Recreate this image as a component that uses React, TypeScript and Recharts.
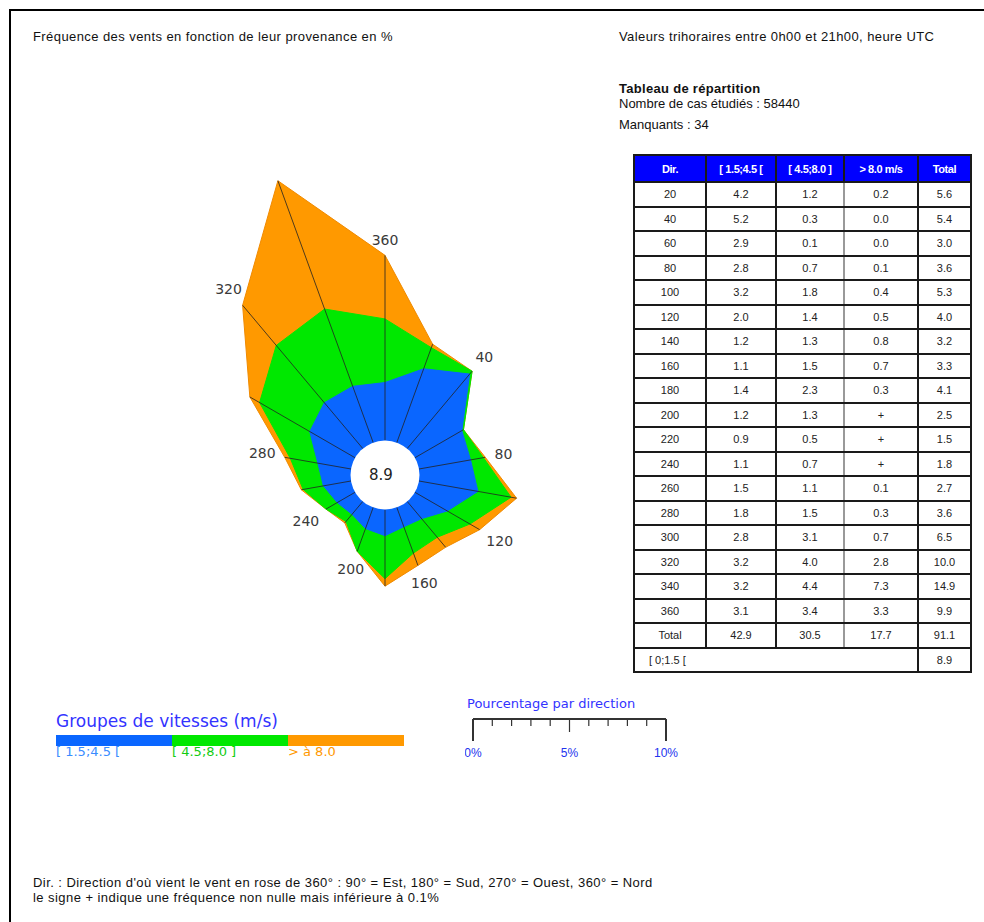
import React from 'react';
import { RadarChart, Radar, PolarAngleAxis, PolarRadiusAxis } from 'recharts';

// directions in table order (degrees the wind comes from)
const directions = [20, 40, 60, 80, 100, 120, 140, 160, 180, 200, 220, 240, 260, 280, 300, 320, 340, 360];
// frequency per speed group, %
const freqLow = [4.2, 5.2, 2.9, 2.8, 3.2, 2.0, 1.2, 1.1, 1.4, 1.2, 0.9, 1.1, 1.5, 1.8, 2.8, 3.2, 3.2, 3.1];
const freqMid = [1.2, 0.3, 0.1, 0.7, 1.8, 1.4, 1.3, 1.5, 2.3, 1.3, 0.5, 0.7, 1.1, 1.5, 3.1, 4.0, 4.4, 3.4];
const freqHighText = ['0.2', '0.0', '0.0', '0.1', '0.4', '0.5', '0.8', '0.7', '0.3', '+', '+', '+', '0.1', '0.3', '0.7', '2.8', '7.3', '3.3'];
const freqTotal = [5.6, 5.4, 3.0, 3.6, 5.3, 4.0, 3.2, 3.3, 4.1, 2.5, 1.5, 1.8, 2.7, 3.6, 6.5, 10.0, 14.9, 9.9];
const columnTotals = ['42.9', '30.5', '17.7', '91.1'];
const calmLabel = '[ 0;1.5 [';
const calmValue = '8.9';

const headers = ['Dir.', '[ 1.5;4.5 [', '[ 4.5;8.0 ]', '> 8.0 m/s', 'Total'];
const speedGroups = ['[ 1.5;4.5 [', '[ 4.5;8.0 ]', '> à 8.0'];
const roseLabelDirs = [360, 40, 80, 120, 160, 200, 240, 280, 320];
const rulerTicks = [0, 1, 2, 3, 4, 5, 6, 7, 8, 9, 10];
const rulerLabels = [0, 5, 10];

const BLUE = '#0a66ff';
const GREEN = '#00e800';
const ORANGE = '#ff9900';
const ROSE_INNER = 34.5;
const ROSE_PX_PER_PCT = 18.7;
const ROSE_MAX = 15;

// rose starts at north (360) and turns clockwise
const roseOrder = [17, 0, 1, 2, 3, 4, 5, 6, 7, 8, 9, 10, 11, 12, 13, 14, 15, 16];
const roseData = roseOrder.map((i) => ({
  dir: directions[i],
  low: freqLow[i],
  lowMid: Math.min(freqLow[i] + freqMid[i], freqTotal[i]),
  total: freqTotal[i],
}));

const txt = "'Liberation Sans', Arial, sans-serif";
const verdana = "'DejaVu Sans', Verdana, sans-serif";

function RoseSpokes(props: any) {
  const { points } = props;
  if (!points || !points.length) return null;
  const { cx, cy } = points[0];
  return (
    <g>
      {points.map((p: any, i: number) => {
        const a = (-p.angle * Math.PI) / 180;
        return (
          <line
            key={`s${i}`}
            x1={cx + ROSE_INNER * Math.cos(a)}
            y1={cy + ROSE_INNER * Math.sin(a)}
            x2={p.x}
            y2={p.y}
            stroke="#222"
            strokeWidth={0.8}
          />
        );
      })}
      <circle cx={cx} cy={cy} r={ROSE_INNER} fill="#fff" />
      <text x={cx - 4} y={cy} textAnchor="middle" dominantBaseline="central" fontFamily={verdana} fontSize={15} fill="#222">
        {calmValue}
      </text>
      {points
        .filter((p: any) => roseLabelDirs.includes(p.payload.dir))
        .map((p: any, i: number) => {
          const a = (-p.angle * Math.PI) / 180;
          const halfW = String(p.payload.dir).length * 4.3;
          const r = p.radius + 9 + Math.abs(Math.cos(a)) * halfW + Math.abs(Math.sin(a)) * 6;
          return (
            <text
              key={`l${i}`}
              x={cx + r * Math.cos(a)}
              y={cy + r * Math.sin(a)}
              textAnchor="middle"
              dominantBaseline="central"
              fontFamily={verdana}
              fontSize={14}
              fill="#3a3a3a"
            >
              {p.payload.dir}
            </text>
          );
        })}
    </g>
  );
}

const cell: React.CSSProperties = {
  border: '2px solid #1a1a1a',
  textAlign: 'center',
  padding: 0,
  height: 22.5,
  fontSize: 11,
  color: '#222',
};

function Table() {
  const colW = [72, 70, 68, 74, 53];
  return (
    <table
      style={{
        position: 'absolute',
        left: 633,
        top: 154,
        width: 337,
        borderCollapse: 'collapse',
        tableLayout: 'fixed',
        fontFamily: txt,
      }}
    >
      <colgroup>
        {colW.map((w, i) => (
          <col key={i} style={{ width: w }} />
        ))}
      </colgroup>
      <tbody>
        <tr>
          {headers.map((h, i) => (
            <td
              key={i}
              style={{ ...cell, height: 25, background: '#0000ff', color: '#fff', fontWeight: 'bold', letterSpacing: -0.4 }}
            >
              {h}
            </td>
          ))}
        </tr>
        {directions.map((d, i) => (
          <tr key={d}>
            <td style={cell}>{d}</td>
            <td style={cell}>{freqLow[i].toFixed(1)}</td>
            <td style={{ ...cell, borderRightColor: '#999' }}>{freqMid[i].toFixed(1)}</td>
            <td style={{ ...cell, borderLeftColor: '#999' }}>{freqHighText[i]}</td>
            <td style={cell}>{freqTotal[i].toFixed(1)}</td>
          </tr>
        ))}
        <tr>
          <td style={cell}>Total</td>
          {columnTotals.map((v, i) => (
            <td key={i} style={i === 2 ? { ...cell, borderLeftColor: '#999' } : i === 1 ? { ...cell, borderRightColor: '#999' } : cell}>
              {v}
            </td>
          ))}
        </tr>
        <tr>
          <td colSpan={4} style={{ ...cell, textAlign: 'left', paddingLeft: 14 }}>
            {calmLabel}
          </td>
          <td style={cell}>{calmValue}</td>
        </tr>
      </tbody>
    </table>
  );
}

function Ruler() {
  const x0 = 8;
  const w = 193;
  const xs = (v: number) => x0 + (v / 10) * w;
  return (
    <svg width={230} height={50} style={{ position: 'absolute', left: 465, top: 712 }}>
      <line x1={xs(0)} y1={7} x2={xs(10)} y2={7} stroke="#333" strokeWidth={2} />
      {rulerTicks.map((t) => {
        const len = t === 0 || t === 10 ? 22 : t === 5 ? 13 : 7;
        return <line key={t} x1={xs(t)} y1={7} x2={xs(t)} y2={7 + len} stroke="#333" strokeWidth={t === 0 || t === 10 ? 2 : 1.2} />;
      })}
      {rulerLabels.map((t) => (
        <text key={t} x={xs(t)} y={41} textAnchor="middle" dominantBaseline="central" fontFamily={txt} fontSize={12} fill="#2233ee">
          {t}%
        </text>
      ))}
    </svg>
  );
}

export default function App() {
  const abs = (left: number, top: number, extra: React.CSSProperties = {}): React.CSSProperties => ({
    position: 'absolute',
    left,
    top,
    whiteSpace: 'nowrap',
    lineHeight: '14px',
    ...extra,
  });
  const legendColors = [BLUE, GREEN, ORANGE];
  const legendTextColors = ['#3a8cff', '#11cc11', '#ff9900'];
  return (
    <div
      style={{
        position: 'absolute',
        left: 0,
        top: 0,
        width: 984,
        height: 922,
        background: '#fff',
        fontFamily: txt,
        fontSize: 13,
        color: '#111',
        overflow: 'hidden',
      }}
    >
      <div style={{ position: 'absolute', left: 9, top: 9, width: 984, height: 922, borderTop: '2px solid #000', borderLeft: '2px solid #000' }} />
      <div style={abs(33, 30, { letterSpacing: 0.42 })}>Fréquence des vents en fonction de leur provenance en %</div>
      <div style={abs(619, 30, { letterSpacing: 0.4 })}>Valeurs trihoraires entre 0h00 et 21h00, heure UTC</div>
      <div style={abs(619, 82, { fontWeight: 'bold', letterSpacing: 0.3 })}>Tableau de répartition</div>
      <div style={abs(619, 97)}>Nombre de cas étudiés : 58440</div>
      <div style={abs(619, 118)}>Manquants : 34</div>

      <div style={{ position: 'absolute', left: 40, top: 140 }}>
        <RadarChart
          width={580}
          height={540}
          data={roseData}
          cx={345}
          cy={335}
          innerRadius={ROSE_INNER}
          outerRadius={ROSE_INNER + ROSE_MAX * ROSE_PX_PER_PCT}
          margin={{ top: 0, right: 0, bottom: 0, left: 0 }}
        >
          <PolarAngleAxis dataKey="dir" tick={false} axisLine={false} tickLine={false} />
          <PolarRadiusAxis domain={[0, ROSE_MAX]} type="number" tick={false} axisLine={false} tickLine={false} />
          <Radar dataKey="total" fill={ORANGE} fillOpacity={1} stroke="#f08a00" strokeWidth={1} isAnimationActive={false} />
          <Radar dataKey="lowMid" fill={GREEN} fillOpacity={1} stroke={GREEN} strokeWidth={1} isAnimationActive={false} />
          <Radar dataKey="low" fill={BLUE} fillOpacity={1} stroke={BLUE} strokeWidth={1} isAnimationActive={false} />
          <Radar dataKey="total" fill="none" stroke="none" shape={<RoseSpokes />} isAnimationActive={false} />
        </RadarChart>
      </div>

      <Table />

      <div style={abs(56, 711, { fontFamily: verdana, fontSize: 17, color: '#3333ff', lineHeight: '20px' })}>
        Groupes de vitesses (m/s)
      </div>
      {speedGroups.map((g, i) => (
        <React.Fragment key={g}>
          <div style={{ position: 'absolute', left: 56 + i * 116, top: 735, width: 116, height: 11, background: legendColors[i] }} />
          <div style={abs(56 + i * 116, 745, { fontFamily: verdana, fontSize: 13, color: legendTextColors[i] })}>{g}</div>
        </React.Fragment>
      ))}

      <div style={abs(467, 697, { fontFamily: verdana, fontSize: 13, color: '#3333ff' })}>Pourcentage par direction</div>
      <Ruler />

      <div style={abs(33, 876, { letterSpacing: 0.44 })}>
        Dir. : Direction d'où vient le vent en rose de 360° : 90° = Est, 180° = Sud, 270° = Ouest, 360° = Nord
      </div>
      <div style={abs(33, 891, { letterSpacing: 0.44 })}>le signe + indique une fréquence non nulle mais inférieure à 0.1%</div>
    </div>
  );
}
